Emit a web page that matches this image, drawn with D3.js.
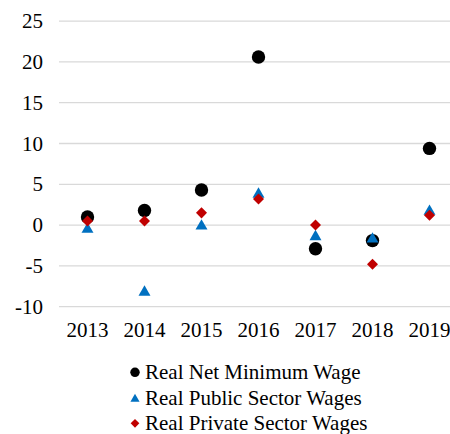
<!DOCTYPE html>
<html>
<head>
<meta charset="utf-8">
<style>
    body { margin: 0; background: #fff; font-family: 'Liberation Serif', serif; }
</style>
</head>
<body>
<svg id="chart" width="450" height="434" style="font-family:'Liberation Serif', serif; font-size:21px">
<style>
    #chart text { font-family: 'Liberation Serif', 'Times New Roman', serif; font-size: 21px; }
</style>
</svg>
<script src="https://d3js.org/d3.v7.min.js"></script>
<script>
    var years = ["2013", "2014", "2015", "2016", "2017", "2018", "2019"];
    var minWage = [1.0, 1.8, 4.3, 20.6, -2.9, -1.9, 9.4];
    var publicWages = [-0.3, -8.0, 0.1, 4.0, -1.2, -1.5, 1.9];
    var privateWages = [0.5, 0.5, 1.5, 3.2, 0.0, -4.8, 1.2];
    var yTicks = [-10, -5, 0, 5, 10, 15, 20, 25];
    var seriesNames = ["Real Net Minimum Wage", "Real Public Sector Wages", "Real Private Sector Wages"];

    var width = 450, height = 434;

    var svg = d3.select("#chart");

    var x = d3.scaleBand().domain(years).range([59, 458]);
    var y = d3.scaleLinear().domain([-10, 25]).range([306.7, 21.1]);

    // gridlines
    svg.selectAll("line.grid")
        .data(yTicks)
        .enter().append("line")
        .attr("x1", 59).attr("x2", width)
        .attr("y1", function(d) { return y(d); })
        .attr("y2", function(d) { return y(d); })
        .attr("stroke", "#d9d9d9")
        .attr("stroke-width", 1.3);

    svg.selectAll("text.ytick")
        .data(yTicks)
        .enter().append("text")
        .attr("x", 43)
        .attr("y", function(d) { return y(d) + 7; })
        .attr("text-anchor", "end")
        .text(function(d) { return d; });

    svg.selectAll("text.xtick")
        .data(years)
        .enter().append("text")
        .attr("x", function(d) { return x(d) + x.bandwidth() / 2; })
        .attr("y", 337)
        .attr("text-anchor", "middle")
        .text(function(d) { return d; });

    var series = [
        { values: minWage, color: "#000000", type: d3.symbolCircle, size: 141, rot: 0, dy: 0, lsize: 70 },
        { values: publicWages, color: "#0070c0", type: d3.symbolTriangle, size: 62, rot: 0, dy: 1.8, lsize: 36 },
        { values: privateWages, color: "#c00000", type: d3.symbolSquare, size: 61, rot: 45, dy: 0, lsize: 38 }
    ];

    series.forEach(function(s) {
        svg.selectAll(null)
            .data(s.values)
            .enter().append("path")
            .attr("d", d3.symbol().type(s.type).size(s.size))
            .attr("fill", s.color)
            .attr("transform", function(d, i) {
                return "translate(" + (x(years[i]) + x.bandwidth() / 2) + "," + (y(d) + s.dy) + ") rotate(" + s.rot + ")";
            });
    });

    // legend
    var legend = svg.selectAll("g.legend")
        .data(series)
        .enter().append("g")
        .attr("transform", function(d, i) { return "translate(135," + (372.3 + i * 25.5) + ")"; });

    legend.append("path")
        .attr("d", function(d) { return d3.symbol().type(d.type).size(d.lsize)(); })
        .attr("fill", function(d) { return d.color; })
        .attr("transform", function(d) { return "translate(0," + (d.dy * 0.7) + ") rotate(" + d.rot + ")"; });

    legend.append("text")
        .attr("x", 10)
        .attr("y", 6.8)
        .text(function(d, i) { return seriesNames[i]; });
</script>
</body>
</html>
